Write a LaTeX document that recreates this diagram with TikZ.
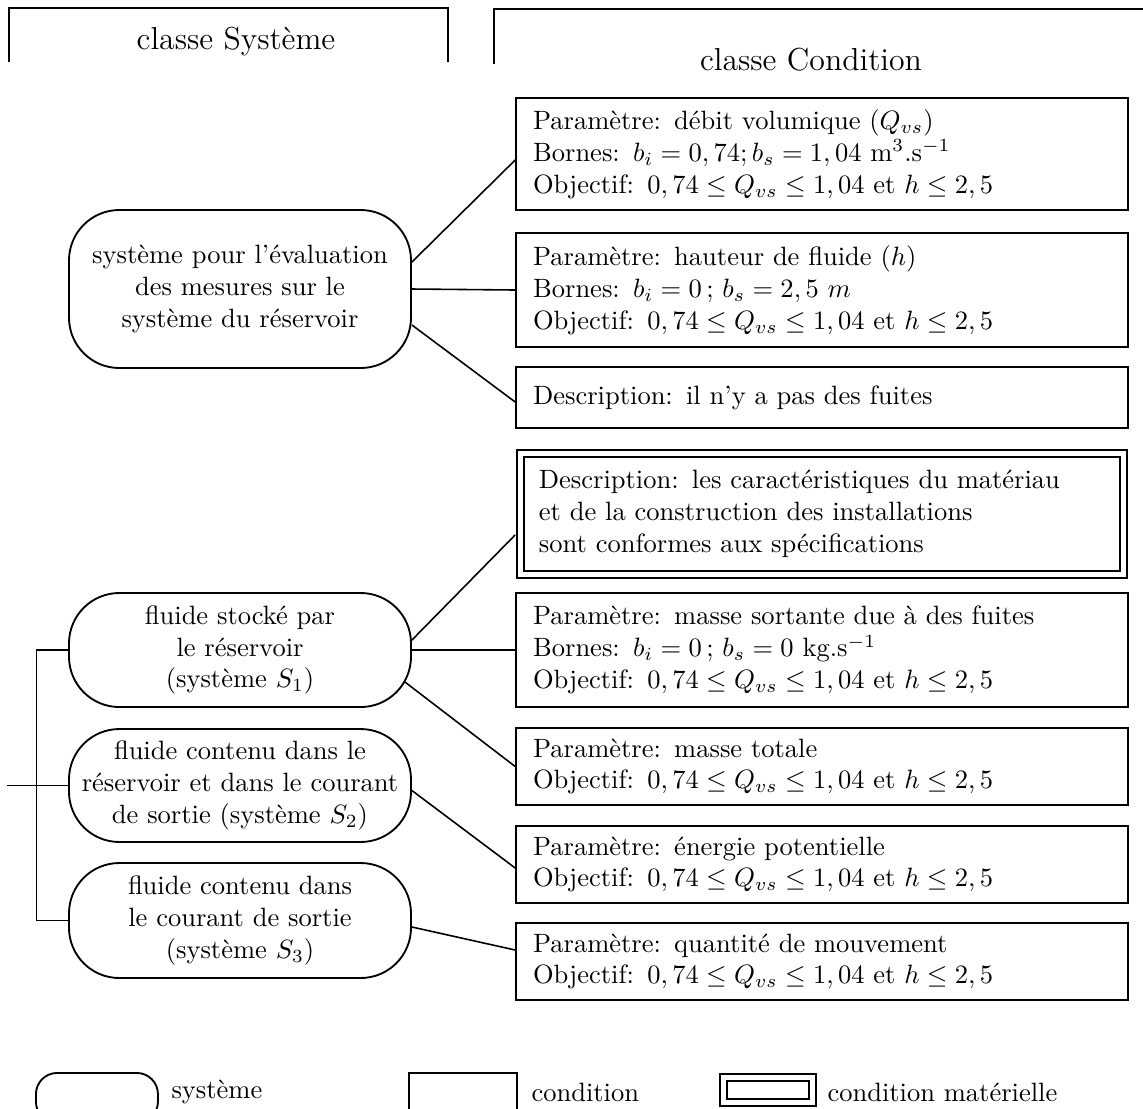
\documentclass[tikz,border=0pt]{standalone}
\usepackage{tikz}
\usetikzlibrary{calc}

\begin{document}
\begin{tikzpicture}[
    x=0.01326cm, y=-0.01326cm,
    sysbox/.style={draw, line width=0.7pt, rounded corners=19pt, minimum width=4.535cm, inner sep=2pt, align=center},
    condbox/.style={rectangle, draw, line width=0.7pt, text width=218pt, inner xsep=6.4pt, align=left},
    matbox/.style={rectangle, draw, line width=0.6pt, double, double distance=2pt, text width=213.6pt, inner xsep=7pt, align=left},
    head/.style={font=\large},
    legtext/.style={anchor=west, inner sep=0pt},
    link/.style={line width=0.6pt},
    frame/.style={line width=0.8pt}
]
\useasboundingbox (0,0) rectangle (1143,1108);
\clip (0,0) rectangle (1143,1108);

% Headers
\draw[frame] (9,62) |- (448,8) -- (448,62);
\draw[frame] (494,64) |- (1150,9);
\node[head] (hsys) at (236,42) {classe Système};
\node[head] (hcond) at (811,60) {classe Condition};

% Systems
\node[sysbox, minimum height=2.095cm] (e0) at (240,289) {système pour l'évaluation\\des mesures sur le\\système du réservoir};
\node[sysbox, minimum height=1.512cm] (e1) at (240,650) {fluide stocké par\\le réservoir\\(système $S_1$)};
\node[sysbox, minimum height=1.498cm] (e2) at (240,785.5) {fluide contenu dans le\\réservoir et dans le courant\\de sortie (système $S_2$)};
\node[sysbox, minimum height=1.525cm] (e3) at (240,920.5) {fluide contenu dans\\le courant de sortie\\(système $S_3$)};

% Conditions
\node[condbox, minimum height=1.485cm] (c1) at (822,154) {Paramètre: débit volumique ($Q_{vs}$)\\Bornes: $b_i=0,74; b_s=1,04$ m$^3$.s$^{-1}$\\Objectif: $0,74\le Q_{vs}\le 1,04$ et $h\le 2,5$};
\node[condbox, minimum height=1.512cm] (c2) at (822,290) {Paramètre: hauteur de fluide ($h$)\\Bornes: $b_i=0$\,; $b_s=2,5\ m$\\Objectif: $0,74\le Q_{vs}\le 1,04$ et $h\le 2,5$};
\node[condbox, minimum height=0.809cm] (c3) at (822,397.5) {Description: il n'y a pas des fuites};
\node[matbox, minimum height=1.604cm] (c4) at (822,514) {Description: les caractéristiques du matériau\\et de la construction des installations\\sont conformes aux spécifications};
\node[condbox, minimum height=1.512cm] (c5) at (822,650) {Paramètre: masse sortante due à des fuites\\Bornes: $b_i=0$\,; $b_s=0$ kg.s$^{-1}$\\Objectif: $0,74\le Q_{vs}\le 1,04$ et $h\le 2,5$};
\node[condbox, minimum height=1.021cm] (c6) at (822,766.5) {Paramètre: masse totale\\Objectif: $0,74\le Q_{vs}\le 1,04$ et $h\le 2,5$};
\node[condbox, minimum height=1.021cm] (c7) at (822,864.5) {Paramètre: énergie potentielle\\Objectif: $0,74\le Q_{vs}\le 1,04$ et $h\le 2,5$};
\node[condbox, minimum height=1.021cm] (c8) at (822,961.5) {Paramètre: quantité de mouvement\\Objectif: $0,74\le Q_{vs}\le 1,04$ et $h\le 2,5$};

% Links
\draw[link] ($(e0.east)+(0,-27)$) -- ($(c1.west)+(0,6)$);
\draw[link] (e0.east) -- (c2.west);
\draw[link] ($(e0.east)+(0,36)$) -- ($(c3.west)+(0,4.5)$);
\draw[link] ($(e1.east)+(0,-10)$) -- ($(c4.west)+(-4.5,21)$);
\draw[link] (e1.east) -- (c5.west);
\draw[link] ($(e1.east)+(-7,32)$) -- (c6.west);
\draw[link] ($(e2.east)+(0,5)$) -- ($(c7.west)+(0,3.5)$);
\draw[link] ($(e3.east)+(0,6.5)$) -- ($(c8.west)+(0,-11.5)$);

% Bracket
\coordinate (root) at (7,785.5);
\draw[link] (e1.west) -- ++(-31.5,0) |- (e3.west);
\draw[link] (root) -- (e2.west);

% Legend
\node[sysbox, rounded corners=8pt, minimum width=1.618cm, minimum height=0.663cm, inner sep=0pt, anchor=north west] (lsys) at (35,1072) {};
\node[legtext] (tsys) at (171,1092) {système};
\node[rectangle, draw, line width=0.7pt, minimum width=1.432cm, minimum height=0.663cm, inner sep=0pt, anchor=north west] (lcond) at (408,1072) {};
\node[legtext] (tcond) at (531,1092) {condition};
\node[rectangle, draw, line width=0.6pt, double, double distance=2pt, minimum width=1.180cm, minimum height=0.332cm, inner sep=0pt, anchor=north west] (lmat) at (722.5,1076.5) {};
\node[legtext] (tmat) at (827,1092) {condition matérielle};

\end{tikzpicture}
\end{document}
